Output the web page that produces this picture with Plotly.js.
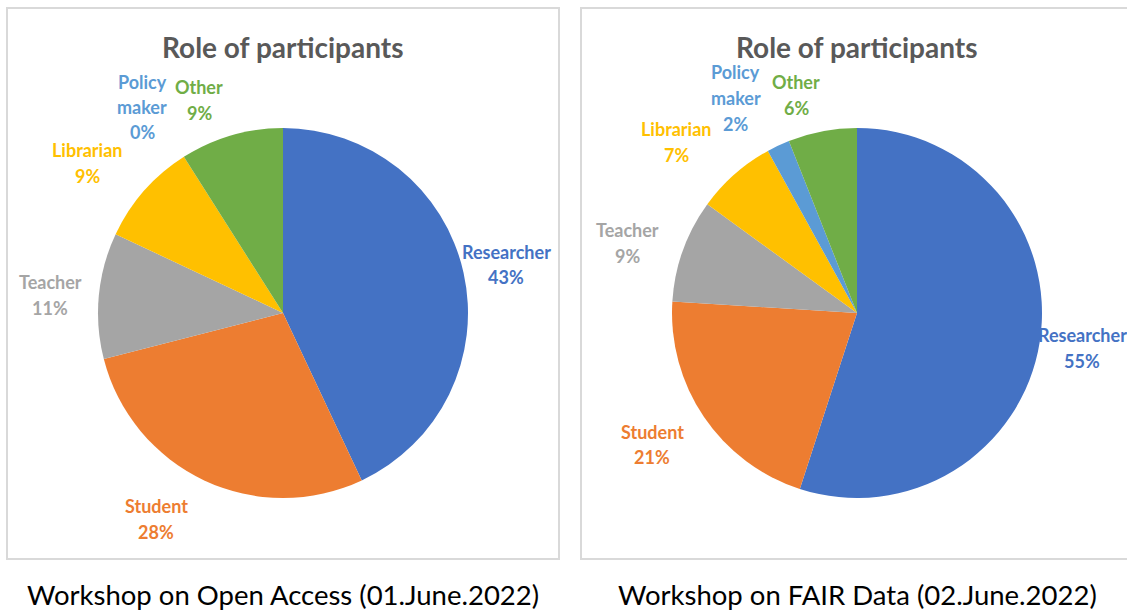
<!DOCTYPE html>
<html>
<head>
<meta charset="utf-8">
<script src="https://cdn.plot.ly/plotly-3.0.1.min.js"></script>
<style>
  html, body { margin: 0; padding: 0; background: #ffffff; }
  #chart { width: 1127px; height: 610px; }
</style>
</head>
<body>
<div id="chart"></div>
<script>
// ---- data ----
const categories = ['Researcher', 'Student', 'Teacher', 'Librarian', 'Policy maker', 'Other'];
const openAccessValues = [43, 28, 11, 9, 0, 9];
const fairDataValues = [55, 21, 9, 7, 2, 6];
const chartTitle = 'Role of participants';
const captions = ['Workshop on Open Access (01.June.2022)', 'Workshop on FAIR Data (02.June.2022)'];
const sliceColors = ['#4472C4', '#ED7D31', '#A5A5A5', '#FFC000', '#5B9BD5', '#70AD47'];

// ---- layout helpers (pixel geometry) ----
const W = 1127, H = 610;
const px = x => x / W;
const py = y => 1 - y / H;

const panels = [
  { values: openAccessValues, cx: 283, cy: 313, r: 185, box: [7, 8, 559, 559],
    labelPos: [[506, 264.5], [156, 519], [50, 295], [87, 163], [142, 107], [199, 100]] },
  { values: fairDataValues, cx: 857, cy: 313, r: 185, box: [581, 8, 1140, 559],
    labelPos: [[1082, 348], [652, 444.5], [627, 243], [676, 142], [736, 98], [796, 95]] }
];

const traces = [];
const annotations = [];
const shapes = [];
const labelFont = 'Lato, "Open Sans", sans-serif';

panels.forEach((p, k) => {
  traces.push({
    type: 'pie',
    labels: categories,
    values: p.values,
    sort: false,
    direction: 'clockwise',
    rotation: 0,
    textinfo: 'none',
    hoverinfo: 'label+percent',
    marker: { colors: sliceColors, line: { width: 0 } },
    showlegend: false,
    domain: { x: [px(p.cx - p.r), px(p.cx + p.r)], y: [py(p.cy + p.r), py(p.cy - p.r)] }
  });

  shapes.push({
    type: 'rect', xref: 'paper', yref: 'paper',
    x0: px(p.box[0]), x1: px(p.box[2]), y0: py(p.box[3]), y1: py(p.box[1]),
    line: { color: '#D9D9D9', width: 2 }, fillcolor: 'rgba(0,0,0,0)', layer: 'below'
  });

  annotations.push({
    xref: 'paper', yref: 'paper', x: px(p.cx), y: py(47),
    xanchor: 'center', yanchor: 'middle', showarrow: false,
    text: '<b>' + chartTitle + '</b>',
    font: { family: labelFont, size: 28, color: '#595959' }
  });

  annotations.push({
    xref: 'paper', yref: 'paper', x: px(p.cx), y: py(594),
    xanchor: 'center', yanchor: 'middle', showarrow: false,
    text: captions[k],
    font: { family: labelFont, size: 27.5, color: '#000000' }
  });

  categories.forEach((cat, i) => {
    const lines = cat.split(' ').concat([p.values[i] + '%']);
    const gap = 25.5;
    const [lx, ly] = p.labelPos[i];
    lines.forEach((ln, j) => {
      annotations.push({
        xref: 'paper', yref: 'paper',
        x: px(lx), y: py(ly + (j - (lines.length - 1) / 2) * gap),
        xanchor: 'center', yanchor: 'middle', showarrow: false,
        text: '<b>' + ln + '</b>',
        font: { family: labelFont, size: 18, color: sliceColors[i] }
      });
    });
  });
});

const layout = {
  width: W, height: H,
  margin: { l: 0, r: 0, t: 0, b: 0 },
  paper_bgcolor: '#ffffff',
  plot_bgcolor: '#ffffff',
  showlegend: false,
  shapes: shapes,
  annotations: annotations
};

Plotly.newPlot('chart', traces, layout, { displayModeBar: false, staticPlot: true });
</script>
</body>
</html>
